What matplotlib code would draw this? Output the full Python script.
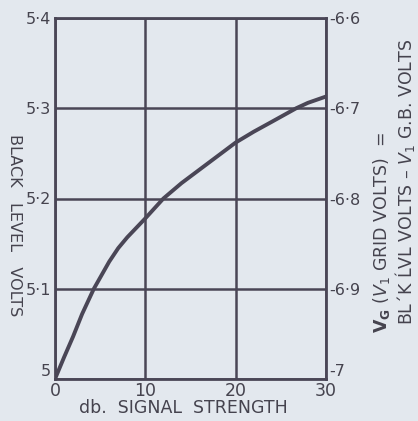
import matplotlib
matplotlib.use("Agg")
import matplotlib.pyplot as plt

# data
signal_db = [0, 1, 2, 3, 4.3, 6, 7, 8, 10, 12, 14, 16, 18, 20, 22, 24, 26.7, 28, 30]
black_level = [5.0, 5.024, 5.047, 5.072, 5.1, 5.13, 5.145, 5.157, 5.178, 5.2, 5.217,
               5.232, 5.247, 5.262, 5.274, 5.285, 5.3, 5.306, 5.313]
x_ticks = [0, 10, 20, 30]
x_labels = ["0", "10", "20", "30"]
left_ticks = [5.0, 5.1, 5.2, 5.3, 5.4]
left_labels = ["5", "5·1", "5·2", "5·3", "5·4"]
right_ticks = [-7.0, -6.9, -6.8, -6.7, -6.6]
right_labels = ["-7", "-6·9", "-6·8", "-6·7", "-6·6"]

BG = "#e3e8ee"
INK = "#4a4656"
TXT = "#45434e"
W, H = 418, 421

fig = plt.figure(figsize=(W / 100, H / 100), dpi=100, facecolor=BG)
ax = fig.add_axes([55 / W, 1 - 379 / H, (326 - 55) / W, (379 - 18) / H])
ax.set_facecolor(BG)

ax.plot(signal_db, black_level, color=INK, lw=2.8, solid_capstyle="round",
        solid_joinstyle="round", zorder=3)

ax.set_xlim(0, 30)
ax.set_ylim(5.0, 5.4)
ax.set_xticks(x_ticks)
ax.set_xticklabels(x_labels, fontsize=12.5, color=TXT)
ax.set_yticks(left_ticks)
ax.set_yticklabels(left_labels, fontsize=11.5, color=TXT)
ax.tick_params(axis="both", length=0, pad=3)
ax.tick_params(axis="x", pad=2)
ax.grid(True, color=INK, lw=1.8)
for s in ax.spines.values():
    s.set_color(INK)
    s.set_linewidth(2.0)
ax.get_yticklabels()[0].set_va("bottom")

sec = ax.secondary_yaxis("right", functions=(lambda v: v - 12.0, lambda v: v + 12.0))
sec.set_yticks(right_ticks)
sec.set_yticklabels(right_labels, fontsize=11.5, color=TXT)
sec.tick_params(length=0, pad=2)
sec.spines["right"].set_visible(False)
sec.get_yticklabels()[0].set_va("bottom")

def px(x, y):
    return x / W, 1 - y / H

fig.text(*px(183, 408), "db.  SIGNAL  STRENGTH", fontsize=12.5, color=TXT,
         ha="center", va="center")
fig.text(*px(14, 225), "BLACK   LEVEL   VOLTS", fontsize=11.5, color=TXT,
         ha="center", va="center", rotation=-90)
fig.text(*px(381, 232), r"$\mathbf{V_G}$ ($V_1$ GRID VOLTS)  =", fontsize=12.5,
         color=TXT, ha="center", va="center", rotation=90)
fig.text(*px(405, 182), r"BL´K ĹVL VOLTS – $V_1$ G.B. VOLTS", fontsize=12.5,
         color=TXT, ha="center", va="center", rotation=90)

fig.savefig("out.png", dpi=100, facecolor=BG)
